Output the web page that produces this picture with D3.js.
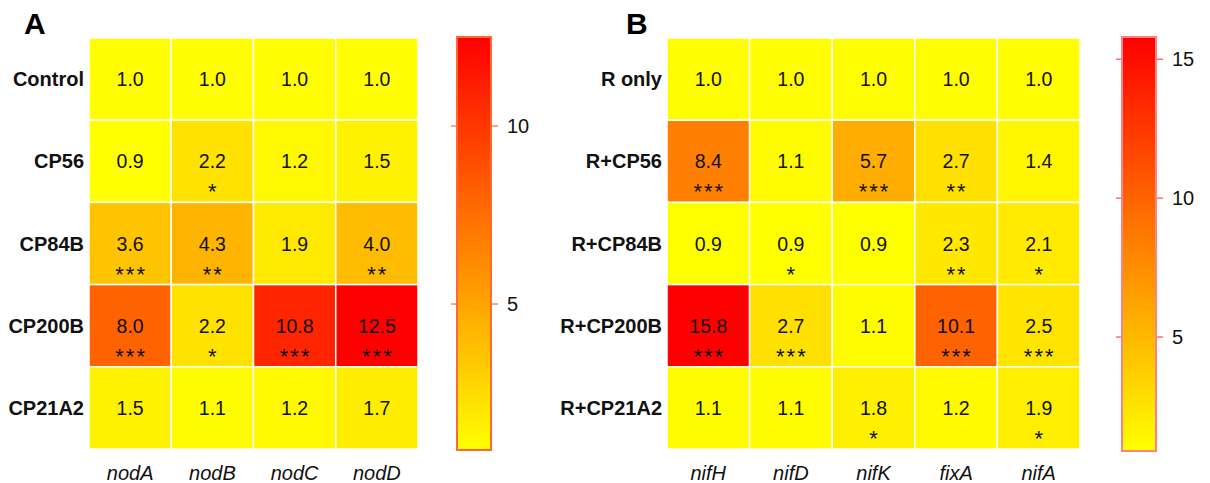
<!DOCTYPE html>
<html>
<head>
<meta charset="utf-8">
<script src="https://cdn.jsdelivr.net/npm/d3@7"></script>
<style>
	body { margin: 0; background: #fff; }
	text { font-family: "Liberation Sans", Arial, sans-serif; }
</style>
</head>
<body>
<script>
const genesA = ['nodA', 'nodB', 'nodC', 'nodD'];
const strainsA = ['Control', 'CP56', 'CP84B', 'CP200B', 'CP21A2'];
const valuesA = [
	[1.0, 1.0, 1.0, 1.0],
	[0.9, 2.2, 1.2, 1.5],
	[3.6, 4.3, 1.9, 4.0],
	[8.0, 2.2, 10.8, 12.5],
	[1.5, 1.1, 1.2, 1.7]
];
const starsA = [
	['', '', '', ''],
	['', '*', '', ''],
	['***', '**', '', '**'],
	['***', '*', '***', '***'],
	['', '', '', '']
];
const ticksA = [5, 10];

const genesB = ['nifH', 'nifD', 'nifK', 'fixA', 'nifA'];
const strainsB = ['R only', 'R+CP56', 'R+CP84B', 'R+CP200B', 'R+CP21A2'];
const valuesB = [
	[1.0, 1.0, 1.0, 1.0, 1.0],
	[8.4, 1.1, 5.7, 2.7, 1.4],
	[0.9, 0.9, 0.9, 2.3, 2.1],
	[15.8, 2.7, 1.1, 10.1, 2.5],
	[1.1, 1.1, 1.8, 1.2, 1.9]
];
const starsB = [
	['', '', '', '', ''],
	['***', '', '***', '**', ''],
	['', '*', '', '**', '*'],
	['***', '***', '', '***', '***'],
	['', '', '*', '', '*']
];
const ticksB = [5, 10, 15];

const W = 1210, H = 483;

let svg = d3.select('body').append('svg')
	.attr('width', W)
	.attr('height', H);

let defs = svg.append('defs');

function drawPanel(opt) {
	let flat = opt.values.flat();
	let lo = d3.min(flat), hi = d3.max(flat);
	let color = d3.scaleLinear().domain([lo, hi]).range(['#ffff00', '#ff0000']);

	let x = d3.scaleBand().domain(opt.genes).range([opt.left, opt.right]);
	let y = d3.scaleBand().domain(opt.strains).range([38, 449]);

	let cells = [];
	opt.strains.forEach((s, i) => opt.genes.forEach((g, j) => {
		cells.push({ strain: s, gene: g, v: opt.values[i][j], star: opt.stars[i][j] });
	}));

	let g = svg.append('g');

	g.selectAll('rect.cell')
		.data(cells)
		.enter().append('rect')
		.attr('class', 'cell')
		.attr('x', d => x(d.gene))
		.attr('y', d => y(d.strain))
		.attr('width', x.bandwidth())
		.attr('height', y.bandwidth())
		.style('fill', d => color(d.v))
		.style('stroke', '#fff')
		.style('stroke-width', 1.5);

	g.selectAll('text.val')
		.data(cells)
		.enter().append('text')
		.attr('class', 'val')
		.attr('x', d => x(d.gene) + x.bandwidth() / 2)
		.attr('y', d => y(d.strain) + y.bandwidth() / 2 + 7)
		.attr('text-anchor', 'middle')
		.style('font-size', '19.5px')
		.style('fill', '#111')
		.text(d => d.v.toFixed(1));

	g.selectAll('text.star')
		.data(cells.filter(d => d.star))
		.enter().append('text')
		.attr('class', 'star')
		.attr('x', d => x(d.gene) + x.bandwidth() / 2 + 1)
		.attr('y', d => y(d.strain) + y.bandwidth() / 2 + 38)
		.attr('text-anchor', 'middle')
		.style('font-size', '22px')
		.style('letter-spacing', '2px')
		.style('fill', '#111')
		.text(d => d.star);

	// row labels
	g.selectAll('text.row')
		.data(opt.strains)
		.enter().append('text')
		.attr('class', 'row')
		.attr('x', opt.left - 5)
		.attr('y', d => y(d) + y.bandwidth() / 2 + 7)
		.attr('text-anchor', 'end')
		.style('font-size', '20px')
		.style('font-weight', 'bold')
		.style('fill', '#111')
		.text(d => d);

	// column labels
	g.selectAll('text.col')
		.data(opt.genes)
		.enter().append('text')
		.attr('class', 'col')
		.attr('x', d => x(d) + x.bandwidth() / 2)
		.attr('y', 480)
		.attr('text-anchor', 'middle')
		.style('font-size', '20px')
		.style('font-style', 'italic')
		.style('fill', '#111')
		.text(d => d);

	// panel letter
	g.append('text')
		.attr('x', opt.letterX)
		.attr('y', 34)
		.style('font-size', '30px')
		.style('font-weight', 'bold')
		.style('fill', '#000')
		.text(opt.letter);

	// colour bar
	let cb = d3.scaleLinear().domain([lo, hi]).range([opt.barBottom, 37]);
	let grad = defs.append('linearGradient')
		.attr('id', 'grad' + opt.letter)
		.attr('x1', 0).attr('y1', 1)
		.attr('x2', 0).attr('y2', 0);
	grad.append('stop').attr('offset', 0).attr('stop-color', color(lo));
	grad.append('stop').attr('offset', 1).attr('stop-color', color(hi));

	g.append('rect')
		.attr('x', opt.barX)
		.attr('y', cb(hi))
		.attr('width', opt.barW)
		.attr('height', cb(lo) - cb(hi))
		.style('fill', `url(#grad${opt.letter})`)
		.style('stroke', opt.barStroke)
		.style('stroke-width', 2);

	let tick = g.selectAll('g.tick')
		.data(opt.ticks)
		.enter().append('g')
		.attr('class', 'tick')
		.attr('transform', d => `translate(0,${cb(d)})`);
	tick.append('line')
		.attr('x1', opt.barX - 6).attr('x2', opt.barX - 1)
		.style('stroke', opt.tickStroke).style('stroke-width', 1.5);
	tick.append('line')
		.attr('x1', opt.barX + opt.barW + 1).attr('x2', opt.barX + opt.barW + 7)
		.style('stroke', opt.tickStroke).style('stroke-width', 1.5);
	tick.append('text')
		.attr('x', opt.barX + opt.barW + 16)
		.attr('y', 7)
		.style('font-size', '20px')
		.style('fill', '#111')
		.text(d => d);
}

drawPanel({
	letter: 'A', letterX: 24,
	genes: genesA, strains: strainsA, values: valuesA, stars: starsA, ticks: ticksA,
	left: 89, right: 418,
	barX: 457, barW: 34, barBottom: 450,
	barStroke: '#ff6a30', tickStroke: '#ff8a50'
});

drawPanel({
	letter: 'B', letterX: 626,
	genes: genesB, strains: strainsB, values: valuesB, stars: starsB, ticks: ticksB,
	left: 667, right: 1080,
	barX: 1122, barW: 34, barBottom: 451,
	barStroke: '#ff8080', tickStroke: '#ff7070'
});
</script>
</body>
</html>
